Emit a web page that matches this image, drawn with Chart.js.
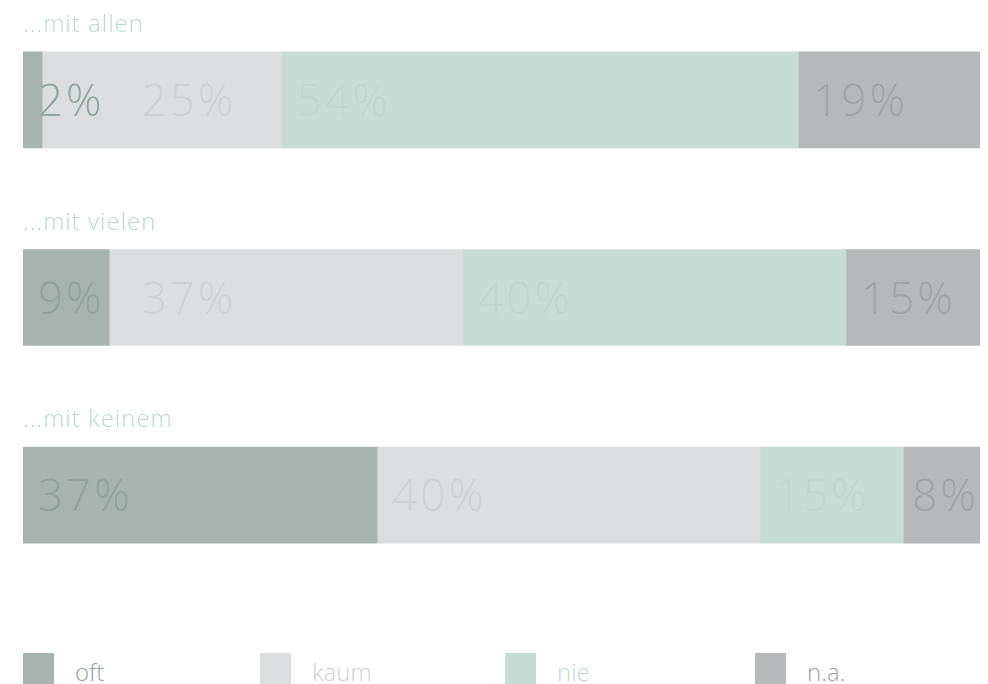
<!DOCTYPE html>
<html>
<head>
<meta charset="utf-8">
<script src="https://cdn.jsdelivr.net/npm/chart.js@4/dist/chart.umd.min.js"></script>
<style>
  html, body { margin: 0; padding: 0; background: #fff; }
  body { width: 988px; height: 684px; position: relative; overflow: hidden; font-family: "Open Sans", "Liberation Sans", sans-serif; }
  #wrap { position: absolute; left: 0; top: 0; width: 988px; height: 600px; }
  #legend { position: absolute; left: 23px; top: 653px; display: grid; grid-template-columns: 237px 245px 250px auto; }
  .item { display: flex; align-items: flex-start; }
  .box { width: 31px; height: 32px; }
  .txt { margin-left: 21px; font-size: 24px; font-weight: 300; line-height: 32px; padding-top: 3px; }
</style>
</head>
<body>
<div id="wrap"><canvas id="chart"></canvas></div>
<div id="legend"></div>
<script>
const categories = ['...mit allen', '...mit vielen', '...mit keinem'];
const seriesNames = ['oft', 'kaum', 'nie', 'n.a.'];
const oft = [2, 9, 37];
const kaum = [25, 37, 40];
const nie = [54, 40, 15];
const na = [19, 15, 8];

const colors = {
  fill: ['#a7b3ae', '#dcdddf', '#c8dcd6', '#b7b8ba'],
  value: ['#8fa69c', '#d0d2d3', '#c0d6ce', '#a3a4a6'],
  legendText: ['#8fa69c', '#cfd0d2', '#bcd9cf', '#a0a1a3'],
  title: '#bcd9cf',
};
const FONT = '"Open Sans", "Liberation Sans", sans-serif';

// titles above each bar
const titlePlugin = {
  id: 'barTitles',
  afterDatasetsDraw(chart) {
    const ctx = chart.ctx;
    const meta = chart.getDatasetMeta(0);
    ctx.save();
    ctx.font = `300 24px ${FONT}`;
    ctx.letterSpacing = '1px';
    ctx.fillStyle = colors.title;
    ctx.textAlign = 'left';
    ctx.textBaseline = 'alphabetic';
    meta.data.forEach((el, i) => {
      const top = el.y - el.height / 2;
      ctx.fillText(chart.data.labels[i], chart.chartArea.left, top - 20);
    });
    ctx.restore();
  }
};

// percent labels inside segments, left aligned, pushed right on overlap
const valuePlugin = {
  id: 'segLabels',
  afterDatasetsDraw(chart) {
    const ctx = chart.ctx;
    const right = chart.chartArea.right;
    ctx.save();
    ctx.font = `300 44px ${FONT}`;
    ctx.letterSpacing = '3px';
    ctx.textAlign = 'left';
    ctx.textBaseline = 'alphabetic';
    chart.data.labels.forEach((_, i) => {
      let prevEnd = -Infinity;
      chart.data.datasets.forEach((ds, d) => {
        const el = chart.getDatasetMeta(d).data[i];
        const text = ds.data[i] + '%';
        const w = ctx.measureText(text).width - 3;
        const start = Math.min(el.base, el.x);
        let x = Math.max(start + 15, prevEnd + 40);
        if (x + w > right - 4) x = right - 4 - w;
        ctx.fillStyle = colors.value[d];
        ctx.fillText(text, x, el.y + 16);
        prevEnd = x + w;
      });
    });
    ctx.restore();
  }
};

const datasets = [oft, kaum, nie, na].map((values, d) => ({
  label: seriesNames[d],
  data: values,
  backgroundColor: colors.fill[d],
  borderWidth: 0,
  barThickness: 96,
  clip: 0,
}));

new Chart(document.getElementById('chart'), {
  type: 'bar',
  data: { labels: categories, datasets },
  options: {
    indexAxis: 'y',
    responsive: true,
    maintainAspectRatio: false,
    animation: false,
    layout: { padding: { left: 23, right: 8, top: 1, bottom: 6 } },
    plugins: { legend: { display: false }, tooltip: { enabled: false } },
    scales: {
      x: { stacked: true, min: 0, max: 100, display: false },
      y: { stacked: true, display: false },
    },
  },
  plugins: [titlePlugin, valuePlugin],
});

// legend
const legend = document.getElementById('legend');
seriesNames.forEach((name, d) => {
  const item = document.createElement('div');
  item.className = 'item';
  item.innerHTML = `<span class="box" style="background:${colors.fill[d]}"></span>` +
    `<span class="txt" style="color:${colors.legendText[d]}">${name}</span>`;
  legend.appendChild(item);
});
</script>
</body>
</html>
